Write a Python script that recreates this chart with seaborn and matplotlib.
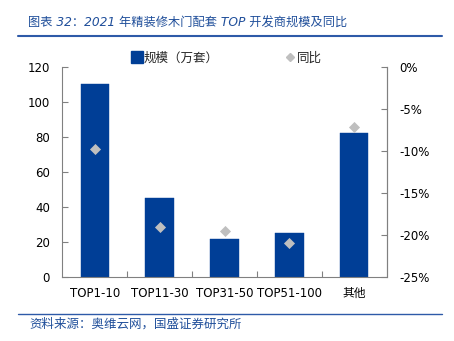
import matplotlib
matplotlib.use("Agg")
import matplotlib.pyplot as plt
import seaborn as sns
import pandas as pd
from matplotlib.lines import Line2D
from matplotlib.ticker import FuncFormatter, FixedLocator

categories = ['TOP1-10', 'TOP11-30', 'TOP31-50', 'TOP51-100', '其他']
scale = [110.5, 45, 21.5, 25, 82.5]          # 规模（万套）
yoy = [-9.8, -19.1, -19.5, -20.9, -7.1]      # 同比 (%)
left_ticks = [0, 20, 40, 60, 80, 100, 120]
right_ticks = [0, -5, -10, -15, -20, -25]

title = '图表 32：2021 年精装修木门配套 TOP 开发商规模及同比'
source = '资料来源：奥维云网，国盛证券研究所'

sns.set_theme(style='white')
plt.rcParams['font.family'] = ['DejaVu Sans', 'Noto Sans CJK SC']

BLUE = '#003E96'
GRAY = '#BFBFBF'
AX = '#808080'
TXT = '#1F4E9A'

df = pd.DataFrame({'cat': categories, 'scale': scale, 'yoy': yoy})

W, H = 454, 341
fig = plt.figure(figsize=(W / 100, H / 100), dpi=100)
ax = fig.add_axes([62.5 / W, (H - 277) / H, 324 / W, 210 / H])

sns.barplot(data=df, x='cat', y='scale', color=BLUE, width=0.44, ax=ax,
            saturation=1, edgecolor=BLUE, linewidth=0.3)
ax.set_xlim(-0.5, 4.5)
ax.set_ylim(0, 120)
ax.set_yticks(left_ticks)
ax.set_xlabel('')
ax.set_ylabel('')

ax2 = ax.twinx()
sns.scatterplot(x=list(range(len(categories))), y=df['yoy'], marker='D',
                color=GRAY, s=32, edgecolor=GRAY, linewidth=0, ax=ax2, zorder=5)
ax2.set_ylim(-25, 0)
ax2.set_yticks(right_ticks)
ax2.yaxis.set_major_formatter(FuncFormatter(lambda v, p: f'{v:.0f}%'))
ax2.set_ylabel('')

for a in (ax, ax2):
    for s in a.spines.values():
        s.set_color(AX)
        s.set_linewidth(0.8)
    a.spines['top'].set_visible(False)
    a.grid(False)

ax2.spines['left'].set_visible(False)
ax2.spines['bottom'].set_visible(False)

ax.tick_params(axis='y', direction='in', length=4, width=0.8, color=AX,
               labelsize=8.5, pad=9, labelcolor='black', left=True)
ax.tick_params(axis='x', which='major', length=0, labelsize=8.5, pad=7,
               labelcolor='black')
ax.xaxis.set_minor_locator(FixedLocator([0.5, 1.5, 2.5, 3.5]))
ax.tick_params(axis='x', which='minor', direction='in', length=4, width=0.8,
               color=AX, bottom=True)
ax2.tick_params(axis='y', direction='in', length=4, width=0.8, color=AX,
                labelsize=8.5, pad=9, labelcolor='black', right=True)

handles = [
    Line2D([], [], marker='s', color=BLUE, linestyle='none', markersize=8),
    Line2D([], [], marker='D', color=GRAY, linestyle='none', markersize=4),
]
fig.legend(handles, ['规模（万套）', '同比'], loc='center',
           bbox_to_anchor=(226.5 / W, 1 - 58 / H), ncol=2, frameon=False,
           fontsize=9, handlelength=0.8, handletextpad=0.15,
           columnspacing=5.3, borderpad=0, borderaxespad=0)

fig.text(28 / W, 1 - 23 / H, title, ha='left', va='center', fontsize=8.8,
         color=TXT, style='italic')
fig.add_artist(Line2D([18 / W, 442 / W], [1 - 36 / H] * 2, color='#2E5AA8',
                      linewidth=1.5))
fig.add_artist(Line2D([18 / W, 442 / W], [1 - 314 / H] * 2, color='#2E5AA8',
                      linewidth=1.0))
fig.text(29 / W, 1 - 324 / H, source, ha='left', va='center', fontsize=9,
         color=TXT, style='italic')

fig.savefig('out.png', dpi=100)
